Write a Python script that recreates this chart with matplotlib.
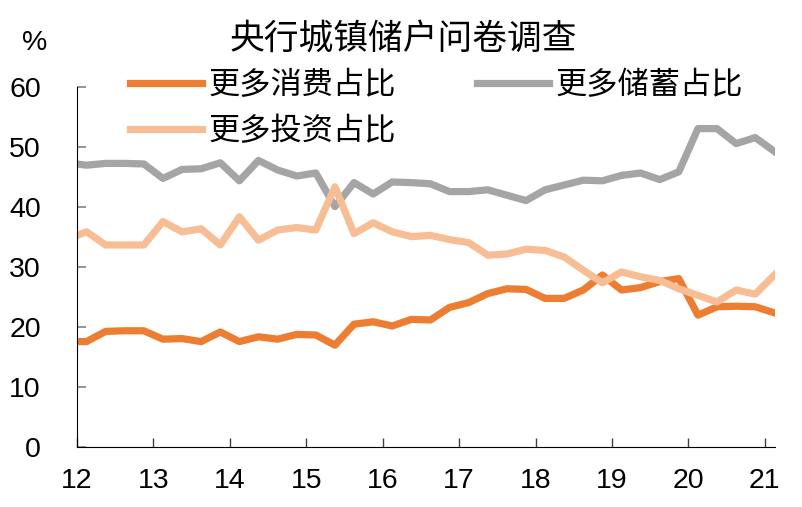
import numpy as np
import matplotlib
matplotlib.use("Agg")
import matplotlib.pyplot as plt

plt.rcParams['font.family'] = ['Noto Sans CJK SC', 'DejaVu Sans']

# quarters from 2011Q4 to 2021Q1 (first one sits left of the axis and is clipped)
quarters = ["11Q4"] + [f"{y}Q{q}" for y in range(12, 21) for q in range(1, 5)] + ["21Q1"]

consume = [17.6,
           17.6, 19.3, 19.4, 19.4,
           18.0, 18.1, 17.6, 19.2,
           17.6, 18.4, 18.0, 18.8,
           18.7, 17.0, 20.5, 20.9,
           20.2, 21.3, 21.2, 23.3,
           24.1, 25.6, 26.4, 26.3,
           24.8, 24.8, 26.2, 28.7,
           26.2, 26.6, 27.6, 28.1,
           22.0, 23.4, 23.5, 23.4,
           22.4]

save = [47.4,
        47.0, 47.3, 47.3, 47.2,
        44.8, 46.3, 46.4, 47.4,
        44.4, 47.8, 46.2, 45.2,
        45.7, 40.1, 44.1, 42.2,
        44.2, 44.1, 43.9, 42.6,
        42.6, 42.9, 42.0, 41.1,
        42.9, 43.7, 44.5, 44.4,
        45.3, 45.7, 44.6, 45.9,
        53.1, 53.1, 50.6, 51.6,
        49.3]

invest = [34.7,
          35.9, 33.7, 33.7, 33.7,
          37.6, 35.9, 36.4, 33.7,
          38.4, 34.5, 36.2, 36.6,
          36.2, 43.4, 35.6, 37.4,
          35.9, 35.1, 35.3, 34.6,
          34.1, 32.0, 32.2, 33.0,
          32.8, 31.7, 29.5, 27.4,
          29.2, 28.4, 27.8, 26.4,
          25.3, 24.2, 26.2, 25.5,
          28.7]

year_ticks = list(range(12, 22))

# position each quarter in the middle of its slot
x = np.array([int(q[:2]) + (int(q[3]) - 0.5) / 4 for q in quarters])

fig = plt.figure(figsize=(8.02, 5.07), dpi=100)
ax = fig.add_axes([0.096, 0.118, 0.870, 0.710])

l1, = ax.plot(x, consume, color="#ED7D31", lw=5.2, label="更多消费占比")
l2, = ax.plot(x, save, color="#A5A5A5", lw=5.2, label="更多储蓄占比")
l3, = ax.plot(x, invest, color="#F7BE96", lw=5.2, label="更多投资占比")

ax.set_xlim(12, 21.13)
ax.set_ylim(0, 60)
ax.set_xticks(year_ticks)
ax.set_xticklabels([str(t) for t in year_ticks], family="Liberation Sans", fontsize=20.5)
ax.set_yticks(range(0, 61, 10))
ax.set_yticklabels([str(t) for t in range(0, 61, 10)], family="Liberation Sans", fontsize=20.5)

ax.spines["top"].set_visible(False)
ax.spines["right"].set_visible(False)
ax.tick_params(axis="y", direction="in", length=6.5, width=1.2, color="#808080", pad=26)
ax.tick_params(axis="x", direction="in", length=6.5, width=1, color="#404040", pad=15)

fig.text(0.043, 0.915, "%", family="Liberation Sans", fontsize=20.5, ha="center", va="center")
fig.text(0.503, 0.920, "央行城镇储户问卷调查", fontsize=25, ha="center", va="center")

ax.legend(handles=[l1, l3, l2], ncol=2, frameon=False, fontsize=22.5,
          loc="upper left", bbox_to_anchor=(0.054, 1.093), borderpad=0,
          handlelength=2.3, handletextpad=0.2, columnspacing=2.6,
          labelspacing=0.45)

fig.savefig("out.png", dpi=100)
